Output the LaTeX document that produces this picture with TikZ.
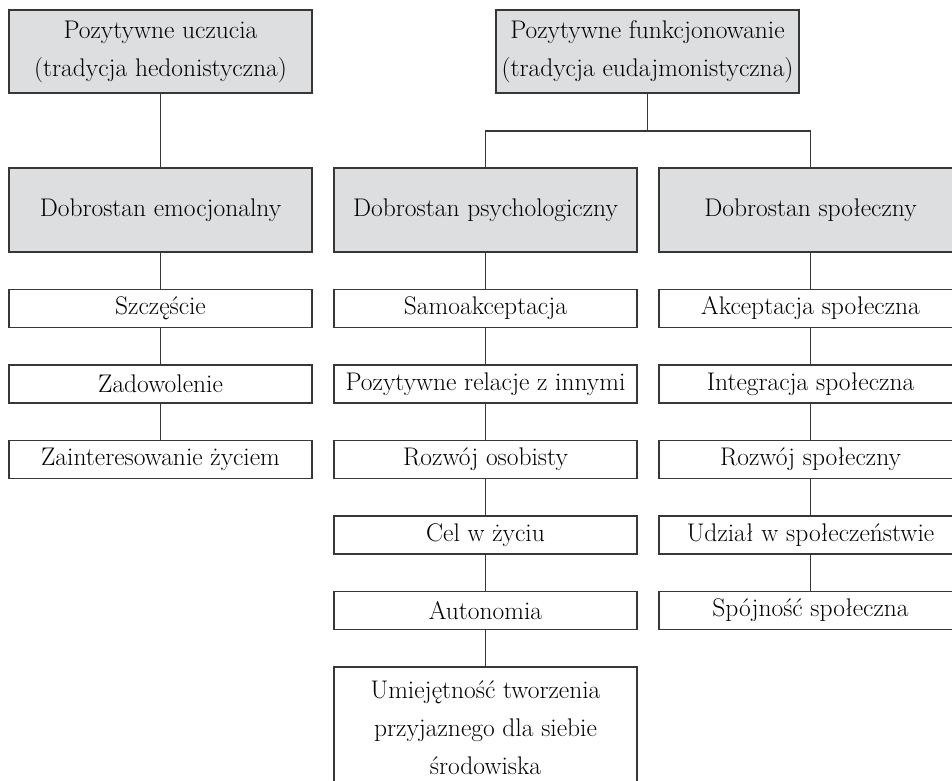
\documentclass[tikz,border=0pt]{standalone}
\usepackage{fontspec}
\definecolor{boxgray}{RGB}{221,222,223}
\definecolor{linec}{RGB}{55,55,55}
\begin{document}
\begin{tikzpicture}[x=1pt,y=-1pt,
  box/.style={draw=linec, line width=1.3pt, minimum width=303pt, inner sep=0pt, align=center, text=black, font=\fontsize{25.5}{38}\selectfont},
  big/.style={box, fill=boxgray, minimum height=83pt},
  small/.style={box, minimum height=38pt},
  conn/.style={draw=linec, line width=1.3pt}]
\useasboundingbox (0,0) rectangle (952,780);
\clip (0,0) rectangle (952,780);
% top level
\node[big] (A) at (160.5,51.5) {Pozytywne uczucia\\(tradycja hedonistyczna)};
\node[big] (B) at (647.5,51.5) {Pozytywne funkcjonowanie\\(tradycja eudajmonistyczna)};
% second level
\node[big, minimum height=84pt] (E) at (160.5,210) {Dobrostan emocjonalny};
\node[big, minimum height=84pt] (P) at (485.5,210) {Dobrostan psychologiczny};
\node[big, minimum height=84pt] (S) at (810.5,210) {Dobrostan społeczny};
% left column
\node[small] (e1) at (160.5,308.5) {Szczęście};
\node[small] (e2) at (160.5,384) {Zadowolenie};
\node[small] (e3) at (160.5,459.5) {Zainteresowanie życiem};
% middle column
\node[small] (p1) at (485.5,308.5) {Samoakceptacja};
\node[small] (p2) at (485.5,384) {Pozytywne relacje z innymi};
\node[small] (p3) at (485.5,459.5) {Rozwój osobisty};
\node[small] (p4) at (485.5,535) {Cel w życiu};
\node[small] (p5) at (485.5,610.5) {Autonomia};
\node[box, minimum height=121pt] (p6) at (485.5,727.5) {Umiejętność tworzenia\\przyjaznego dla siebie\\środowiska};
% right column
\node[small] (s1) at (810.5,308.5) {Akceptacja społeczna};
\node[small] (s2) at (810.5,384) {Integracja społeczna};
\node[small] (s3) at (810.5,459.5) {Rozwój społeczny};
\node[small] (s4) at (810.5,535) {Udział w społeczeństwie};
\node[small] (s5) at (810.5,610.5) {Spójność społeczna};
% connectors
\coordinate (J) at (647.5,131);
\draw[conn] (A.south) -- (E.north);
\draw[conn] (B.south) -- (J);
\draw[conn] (P.north) |- (J) -| (S.north);
\draw[conn] (E.south) -- (e1.north);
\draw[conn] (e1.south) -- (e2.north);
\draw[conn] (e2.south) -- (e3.north);
\draw[conn] (P.south) -- (p1.north);
\draw[conn] (p1.south) -- (p2.north);
\draw[conn] (p2.south) -- (p3.north);
\draw[conn] (p3.south) -- (p4.north);
\draw[conn] (p4.south) -- (p5.north);
\draw[conn] (p5.south) -- (p6.north);
\draw[conn] (S.south) -- (s1.north);
\draw[conn] (s1.south) -- (s2.north);
\draw[conn] (s2.south) -- (s3.north);
\draw[conn] (s3.south) -- (s4.north);
\draw[conn] (s4.south) -- (s5.north);
\end{tikzpicture}
\end{document}
